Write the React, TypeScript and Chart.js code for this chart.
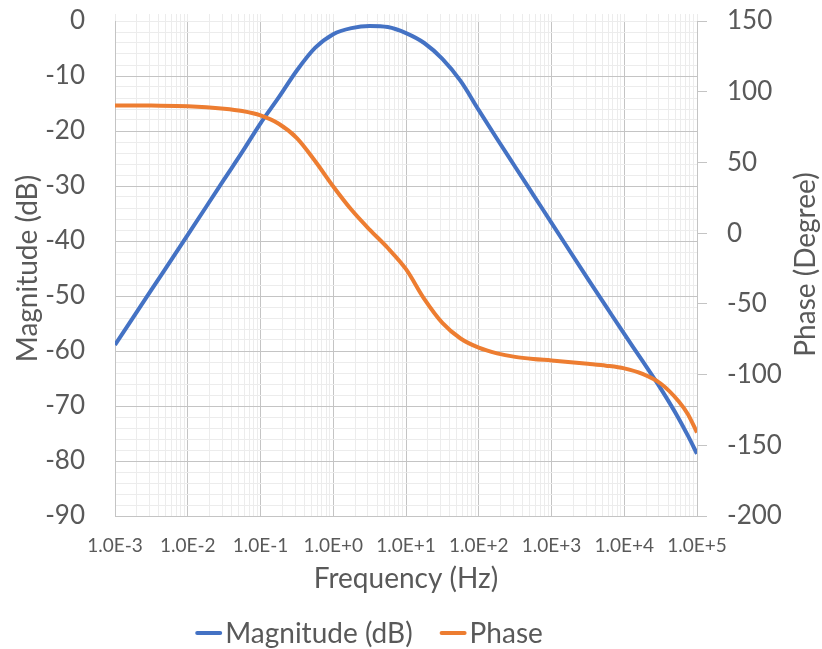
import React, { useEffect, useRef } from 'react';
import { Chart, registerables } from 'chart.js';

Chart.register(...registerables);

// Frequency response samples (Hz)
const FREQ_HZ = [
  0.001, 0.00316, 0.01, 0.0316, 0.0562, 0.1, 0.178, 0.316, 0.562, 1,
  1.78, 3.16, 5.62, 10, 17.8, 31.6, 56.2, 100, 178, 316,
  562, 1000, 3160, 5620, 10000, 17800, 31600, 56200, 75000, 100000,
];
const MAGNITUDE_DB = [
  -58.9, -48.9, -38.9, -28.8, -23.8, -18.6, -13.9, -9.0, -4.9, -2.4,
  -1.3, -0.9, -1.1, -2.2, -4.0, -6.9, -10.9, -16.2, -21.4, -26.5,
  -31.6, -36.7, -46.9, -51.9, -56.9, -61.8, -66.8, -72.3, -75.4, -78.7,
];
const PHASE_DEG = [
  90.3, 90.2, 89.8, 88.0, 86.3, 83.2, 77.3, 67.2, 51.0, 33.0,
  16.5, 2.5, -10.5, -25.5, -46.5, -63.5, -74.5, -81.0, -85.0, -87.5,
  -89.0, -90.0, -92.4, -93.7, -95.6, -99.5, -106.3, -119.0, -128.0, -141.0,
];

const DECADES = [1e-3, 1e-2, 1e-1, 1, 10, 100, 1000, 10000, 100000];
const DECADE_LABELS = ['1.0E-3', '1.0E-2', '1.0E-1', '1.0E+0', '1.0E+1', '1.0E+2', '1.0E+3', '1.0E+4', '1.0E+5'];
const MAG_RANGE = [-90, 0];
const MAG_MAJOR_STEP = 10;
const MAG_MINOR_STEP = 2;
const PHASE_RANGE = [-200, 150];
const PHASE_STEP = 50;

const SERIES_NAMES = ['Magnitude (dB)', 'Phase'];
const SERIES_COLORS = ['#4472C4', '#ED7D31'];
const AXIS_TITLES = { x: 'Frequency (Hz)', left: 'Magnitude (dB)', right: 'Phase (Degree)' };

const FONT = 'Lato';
const TEXT = '#595959';
const GRID_MAJOR = '#c4c4c4';
const GRID_MINOR = '#ececec';
const TITLE_SIZE = 28;

// 1..9 per decade for the log-axis grid
function decadeTickValues(): number[] {
  const vals: number[] = [];
  for (let d = 0; d < DECADES.length - 1; d++) {
    for (let k = 1; k <= 9; k++) vals.push(DECADES[d] * k);
  }
  vals.push(DECADES[DECADES.length - 1]);
  return vals;
}

const overlayPlugin = {
  id: 'bodeOverlay',
  afterDraw(chart: any) {
    const { ctx, chartArea } = chart;
    ctx.save();
    ctx.fillStyle = TEXT;
    ctx.font = `${TITLE_SIZE}px ${FONT}`;

    // right axis title, reading upward
    ctx.save();
    ctx.translate(chartArea.right + 109, (chartArea.top + chartArea.bottom) / 2 - 4);
    ctx.rotate(-Math.PI / 2);
    ctx.textAlign = 'center';
    ctx.textBaseline = 'middle';
    ctx.fillText(AXIS_TITLES.right, 0, 0);
    ctx.restore();

    // legend
    const lineLen = 27;
    const gapText = 3;
    const gapItem = 27;
    const widths = SERIES_NAMES.map((n) => ctx.measureText(n).width);
    const total = widths.reduce((a, w) => a + lineLen + gapText + w, 0) + gapItem * (SERIES_NAMES.length - 1);
    let x = 369 - total / 2;
    const y = chart.height - 16;
    ctx.textAlign = 'left';
    ctx.textBaseline = 'middle';
    SERIES_NAMES.forEach((name, i) => {
      ctx.strokeStyle = SERIES_COLORS[i];
      ctx.lineWidth = 4;
      ctx.lineCap = 'round';
      ctx.beginPath();
      ctx.moveTo(x + 2, y);
      ctx.lineTo(x + lineLen - 2, y);
      ctx.stroke();
      x += lineLen + gapText;
      ctx.fillText(name, x, y + 1);
      x += widths[i] + gapItem;
    });
    ctx.restore();
  },
};

export default function App() {
  const canvasRef = useRef<HTMLCanvasElement | null>(null);

  useEffect(() => {
    if (!canvasRef.current) return;
    const xTicks = decadeTickValues();

    const chart = new Chart(canvasRef.current, {
      type: 'line',
      data: {
        datasets: [
          {
            label: SERIES_NAMES[0],
            data: FREQ_HZ.map((f, i) => ({ x: f, y: MAGNITUDE_DB[i] })),
            borderColor: SERIES_COLORS[0],
            backgroundColor: SERIES_COLORS[0],
            borderWidth: 4,
            pointRadius: 0,
            cubicInterpolationMode: 'monotone',
            yAxisID: 'y',
            xAxisID: 'x',
            order: 1,
          },
          {
            label: SERIES_NAMES[1],
            data: FREQ_HZ.map((f, i) => ({ x: f, y: PHASE_DEG[i] })),
            borderColor: SERIES_COLORS[1],
            backgroundColor: SERIES_COLORS[1],
            borderWidth: 4,
            pointRadius: 0,
            cubicInterpolationMode: 'monotone',
            yAxisID: 'y1',
            xAxisID: 'x',
            order: 0,
          },
        ],
      },
      options: {
        responsive: false,
        animation: false,
        devicePixelRatio: 1,
        layout: { padding: { top: 21, right: 0, bottom: 49, left: 0 } },
        plugins: {
          legend: { display: false },
          tooltip: { enabled: false },
        },
        scales: {
          x: {
            type: 'logarithmic',
            position: 'bottom',
            min: DECADES[0],
            max: DECADES[DECADES.length - 1],
            afterBuildTicks: (scale: any) => {
              scale.ticks = xTicks.map((v) => ({ value: v }));
            },
            afterFit: (scale: any) => {
              scale.height = 84;
            },
            ticks: {
              autoSkip: false,
              maxRotation: 0,
              minRotation: 0,
              padding: 18,
              color: TEXT,
              font: { family: FONT, size: 19 },
              callback: (_v: any, index: number) => (index % 9 === 0 ? DECADE_LABELS[index / 9] : ''),
            },
            grid: {
              drawTicks: false,
              lineWidth: 1,
              color: (ctx: any) => (ctx.index % 9 === 0 ? GRID_MAJOR : GRID_MINOR),
            },
            border: { display: true, color: GRID_MAJOR },
            title: {
              display: true,
              text: AXIS_TITLES.x,
              color: TEXT,
              font: { family: FONT, size: TITLE_SIZE },
              padding: { top: 0, bottom: 4 },
            },
          },
          xTop: {
            type: 'logarithmic',
            position: 'top',
            min: DECADES[0],
            max: DECADES[DECADES.length - 1],
            afterBuildTicks: (scale: any) => {
              scale.ticks = xTicks.map((v) => ({ value: v }));
            },
            afterFit: (scale: any) => {
              scale.height = 0;
            },
            ticks: { display: false, autoSkip: false },
            grid: {
              drawOnChartArea: false,
              drawTicks: true,
              tickLength: 7,
              tickColor: GRID_MINOR,
            },
            border: { display: false },
          },
          y: {
            type: 'linear',
            position: 'left',
            min: MAG_RANGE[0],
            max: MAG_RANGE[1],
            afterFit: (scale: any) => {
              scale.width = 115;
              scale.paddingTop = 0;
              scale.paddingBottom = 0;
            },
            ticks: {
              stepSize: MAG_MINOR_STEP,
              autoSkip: false,
              padding: 30,
              color: TEXT,
              font: { family: FONT, size: 26 },
              callback: (v: any) => (Number(v) % MAG_MAJOR_STEP === 0 ? String(v) : ''),
            },
            grid: {
              drawTicks: false,
              color: (ctx: any) => {
                const v = ctx.tick ? ctx.tick.value : 1;
                return v % MAG_MAJOR_STEP === 0 && v !== MAG_RANGE[1] ? GRID_MAJOR : GRID_MINOR;
              },
            },
            border: { display: true, color: GRID_MAJOR },
            title: {
              display: true,
              text: AXIS_TITLES.left,
              color: TEXT,
              font: { family: FONT, size: TITLE_SIZE },
              padding: { top: 11, bottom: 0 },
            },
          },
          y1: {
            type: 'linear',
            position: 'right',
            min: PHASE_RANGE[0],
            max: PHASE_RANGE[1],
            afterFit: (scale: any) => {
              scale.width = 125;
              scale.paddingTop = 0;
              scale.paddingBottom = 0;
            },
            ticks: {
              stepSize: PHASE_STEP,
              padding: 20,
              color: TEXT,
              font: { family: FONT, size: 26 },
              callback: (v: any) => String(v),
            },
            grid: {
              drawOnChartArea: false,
              drawTicks: true,
              tickLength: 10,
              tickColor: GRID_MAJOR,
            },
            border: { display: true, color: GRID_MAJOR },
          },
        },
      },
      plugins: [overlayPlugin],
    } as any);

    return () => chart.destroy();
  }, []);

  return (
    <div style={{ position: 'fixed', left: 0, top: 0, width: 822, height: 649, background: '#fff' }}>
      <canvas ref={canvasRef} width={822} height={649} style={{ display: 'block' }} />
    </div>
  );
}
